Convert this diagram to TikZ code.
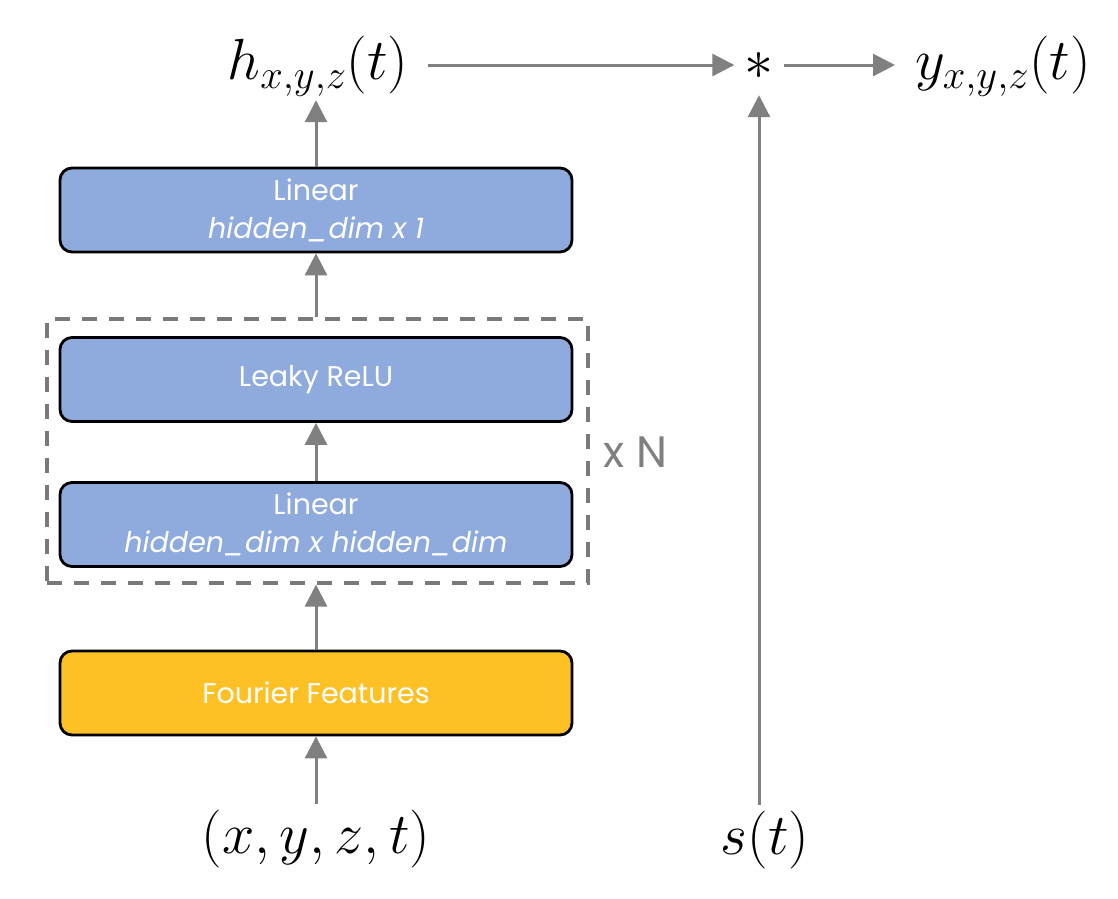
\documentclass[tikz,border=0pt]{standalone}
\usepackage{fix-cm}
\usepackage[no-math]{fontspec}
\newfontfamily\boxfont{Poppins}
\usetikzlibrary{arrows.meta}
\definecolor{boxblue}{HTML}{8FAADC}
\definecolor{boxyellow}{HTML}{FDC126}
\definecolor{arrgray}{HTML}{808080}
\definecolor{dashgray}{HTML}{7A7A7A}
\begin{document}
\begin{tikzpicture}[x=1pt,y=-1pt,
  layer/.style={draw=black, line width=2.8pt, rounded corners=12pt,
    minimum width=512pt, minimum height=84pt, inner sep=0pt, align=center,
    text=white, font=\boxfont\fontsize{28.5}{38}\selectfont},
  mathlbl/.style={inner xsep=20pt, inner ysep=6pt, text height=43.5pt, text depth=14.5pt,
    font=\fontsize{58}{70}\selectfont},
  conn/.style={draw=arrgray, line width=3pt, -{Triangle[length=22pt,width=22pt]}},
  repbox/.style={draw=dashgray, line width=3.2pt, dash pattern=on 15pt off 12pt,
    minimum width=541pt, minimum height=264pt, inner sep=0pt}
]
\useasboundingbox (0,0) rectangle (1118,898);

\node[layer, fill=boxblue] (lintop) at (316,210) {Linear\\\itshape hidden\_dim x 1};
\node[repbox] (rep) at (317.5,451) {};
\node[layer, fill=boxblue] (leaky) at (316,379.5) {Leaky ReLU};
\node[layer, fill=boxblue] (linbot) at (316,524.5) {Linear\\\itshape hidden\_dim x hidden\_dim};
\node[layer, fill=boxyellow] (fourier) at (316,693) {Fourier Features};
\node[text=arrgray, font=\boxfont\fontsize{44}{50}\selectfont, anchor=west, inner sep=0pt] (xn) at (603,452) {x N};

\node[mathlbl] (h) at (318,65) {$h_{x,y,z}(t)$};
\node[mathlbl, inner xsep=10pt, inner ysep=1pt] (star) at (759,65) {$\ast$};
\node[mathlbl, anchor=west] (y) at (895,65) {$y_{x,y,z}(t)$};
\node[mathlbl] (in) at (316,839) {$(x,y,z,t)$};
\node[mathlbl] (s) at (765,840) {$s(t)$};

\draw[conn] (in.north -| fourier.south) -- (fourier.south);
\draw[conn] (fourier.north) -- (rep.south -| fourier.north);
\draw[conn] (linbot.north) -- (leaky.south);
\draw[conn] (rep.north -| lintop.south) -- (lintop.south);
\draw[conn] (lintop.north) -- (h.south -| lintop.north);
\draw[conn] (h.east) -- (star.west);
\draw[conn] (star.east) -- (y.west);
\draw[conn] (s.north -| star.south) -- (star.south);
\end{tikzpicture}
\end{document}
